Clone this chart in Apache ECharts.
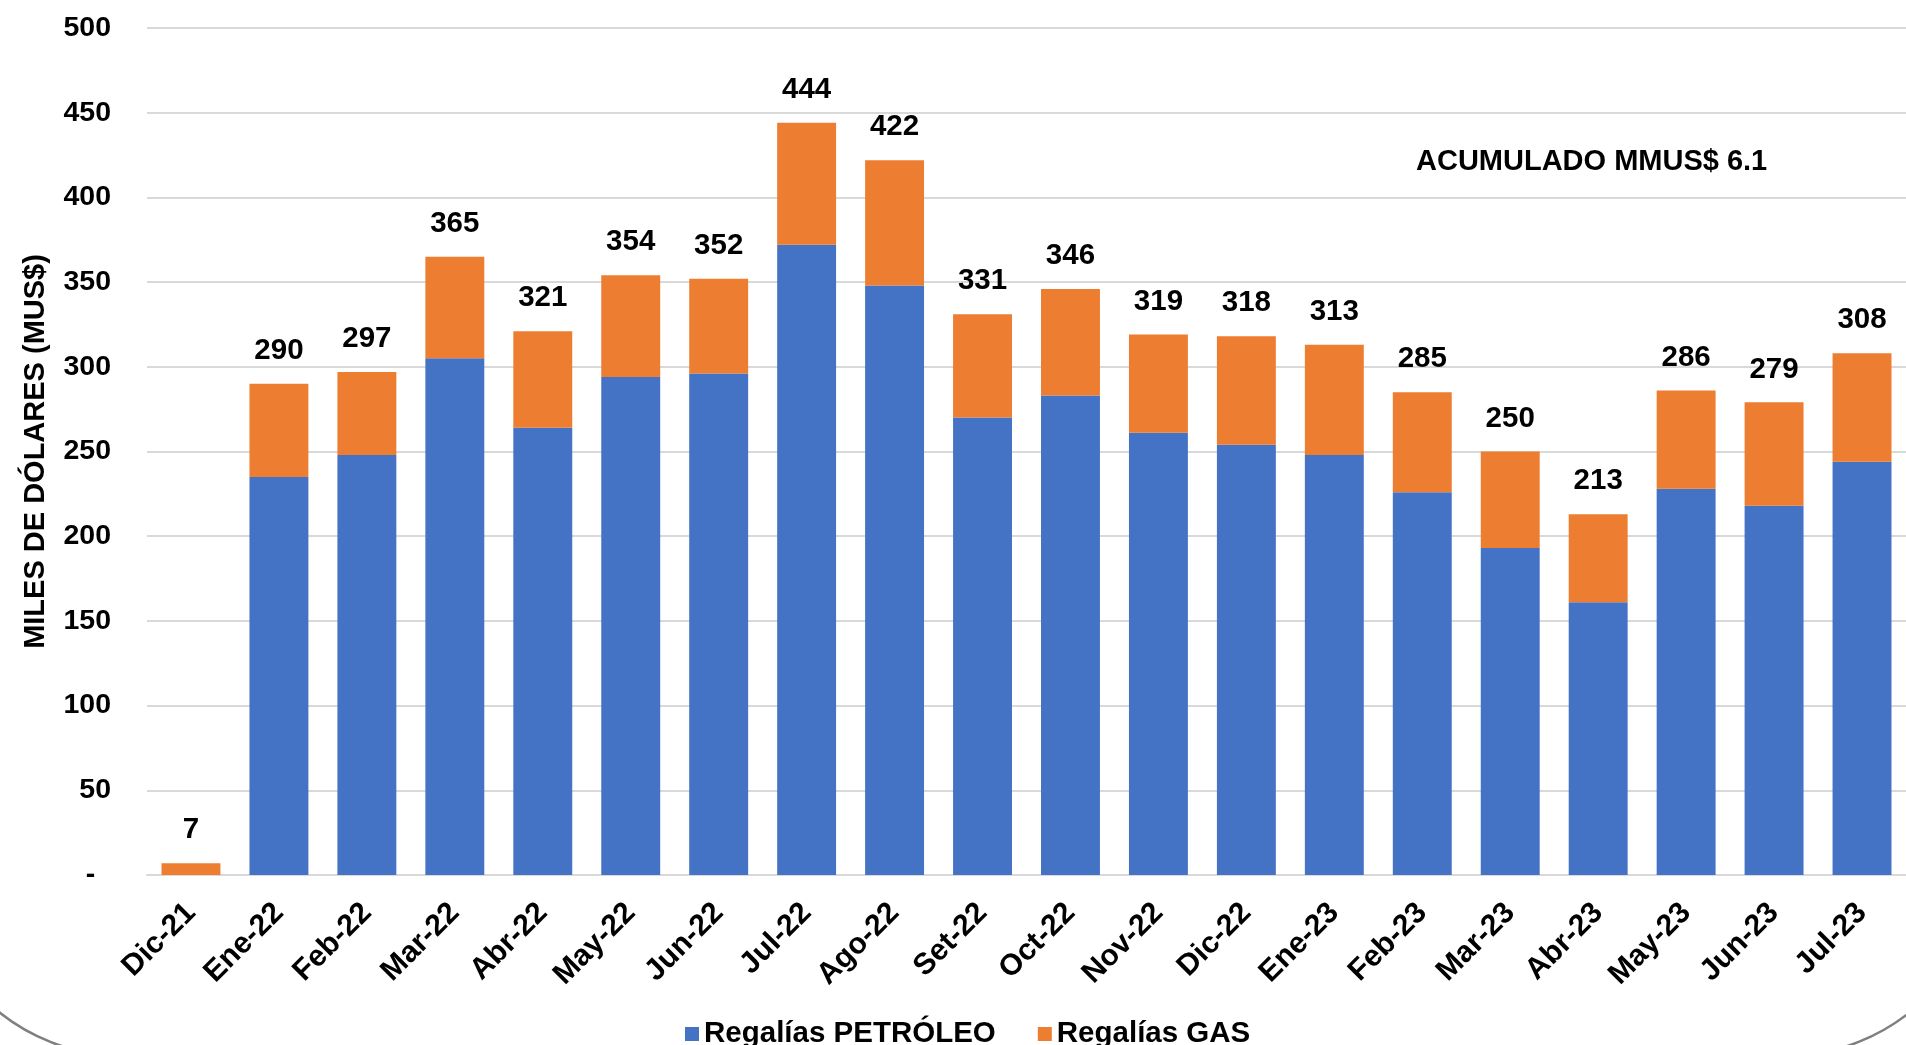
<!DOCTYPE html>
<html>
<head>
<meta charset="utf-8">
<script src="https://cdn.jsdelivr.net/npm/echarts@6/dist/echarts.min.js"></script>
<style>
html,body{margin:0;padding:0;background:#fff;}
#chart{width:1906px;height:1045px;}
</style>
</head>
<body>
<div id="chart"></div>
<script>
const categories = ['Dic-21','Ene-22','Feb-22','Mar-22','Abr-22','May-22','Jun-22','Jul-22','Ago-22','Set-22','Oct-22','Nov-22','Dic-22','Ene-23','Feb-23','Mar-23','Abr-23','May-23','Jun-23','Jul-23'];
const petroleo = [0,235,248,305,264,294,296,372,348,270,283,261,254,248,226,193,161,228,218,244];
const gas = [7,55,49,60,57,60,56,72,74,61,63,58,64,65,59,57,52,58,61,64];
const totals = [7,290,297,365,321,354,352,444,422,331,346,319,318,313,285,250,213,286,279,308];
const yTicks = {min:0, max:500, interval:50};
const seriesNames = ['Regalías PETRÓLEO','Regalías GAS'];
const yAxisName = 'MILES DE DÓLARES (MUS$)';
const noteText = 'ACUMULADO MMUS$ 6.1';

const FONT = "'Liberation Sans', Arial, sans-serif";
const chart = echarts.init(document.getElementById('chart'));
chart.setOption({
  animation:false,
  backgroundColor:'#ffffff',
  textStyle:{fontFamily:FONT},
  grid:{left:147, top:28, width:1772, height:847},
  legend:{
    data:seriesNames, left:680, top:1014, itemWidth:14, itemHeight:14, itemGap:42,
    icon:'rect',
    textStyle:{fontFamily:FONT, fontSize:29.5, fontWeight:'bold', color:'#000'}
  },
  xAxis:{
    type:'category', data:categories,
    axisLine:{lineStyle:{color:'#d9d9d9', width:2}},
    axisTick:{show:false},
    axisLabel:{rotate:45, margin:33, interval:0, fontFamily:FONT, fontSize:30, fontWeight:'bold', color:'#000'}
  },
  yAxis:{
    type:'value', min:yTicks.min, max:yTicks.max, interval:yTicks.interval,
    name:yAxisName, nameLocation:'middle', nameGap:97,
    nameTextStyle:{fontFamily:FONT, fontSize:29, fontWeight:'bold', color:'#000'},
    axisLine:{show:false}, axisTick:{show:false},
    axisLabel:{margin:36, fontFamily:FONT, fontSize:28.5, fontWeight:'bold', color:'#000',
      formatter:v => v === 0 ? '-  ' : String(v)},
    splitLine:{lineStyle:{color:'#d9d9d9', width:2}}
  },
  series:[
    {name:seriesNames[0], type:'bar', stack:'t', data:petroleo, barCategoryGap:'33%',
     itemStyle:{color:'#4472C4'}},
    {name:seriesNames[1], type:'bar', stack:'t', data:gas, barCategoryGap:'33%',
     itemStyle:{color:'#ED7D31'},
     label:{show:true, position:'top', distance:18, fontFamily:FONT, fontSize:29.5, fontWeight:'bold', color:'#000',
       formatter:p => String(totals[p.dataIndex])}}
  ],
  graphic:[
    {type:'text', left:1416, top:147, style:{text:noteText, font:"bold 29px 'Liberation Sans', Arial, sans-serif", fill:'#000'}},
    {type:'rect', shape:{x:-76, y:-300, width:2061, height:1356, r:200}, style:{fill:'none', stroke:'#7f7f7f', lineWidth:2.5}, silent:true}
  ]
});
</script>
</body>
</html>
